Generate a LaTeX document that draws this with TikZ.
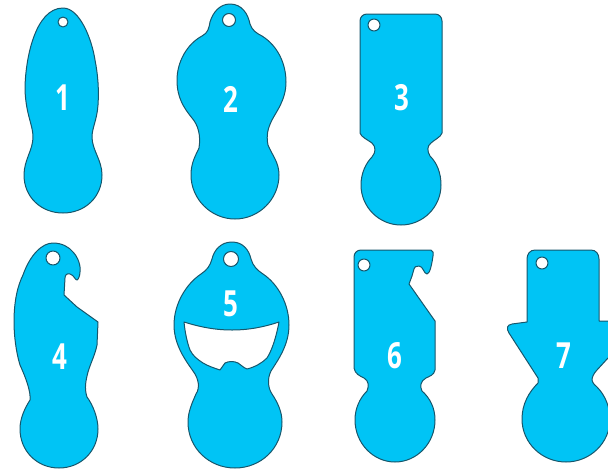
\documentclass[tikz,border=0pt]{standalone}
\usepackage{fontspec}
\setmainfont{Open Sans}
\definecolor{tokenfill}{HTML}{00C4F5}
\definecolor{tokenline}{HTML}{17566B}
\tikzset{
  token/.style={fill=tokenfill,draw=tokenline,line width=1pt,even odd rule,line join=round},
  digit/.style={text=white,inner sep=0pt,font=\fontsize{36}{36}\selectfont\bfseries,xscale=0.72,transform shape}
}
\begin{document}
\begin{tikzpicture}[x=1pt,y=-1pt]
\useasboundingbox (0,0) rectangle (608,469);
\clip (0,0) rectangle (608,469);
% 1
\draw[token] (63,8) .. controls (80,8) and (92,40) .. (95,60)
 .. controls (98,75) and (99,90) .. (98,105)
 .. controls (97,120) and (92,128) .. (92,137)
 .. controls (92,150) and (102,160) .. (102,175)
 .. controls (102,197) and (85,213) .. (63,213)
 .. controls (41,213) and (24,197) .. (24,175)
 .. controls (24,160) and (33,150) .. (33,137)
 .. controls (33,125) and (26,115) .. (25,90)
 .. controls (25,60) and (35,8) .. (63,8) -- cycle
 (63,22) circle (5pt);
% 2
\draw[token] (230,4) .. controls (242,4) and (248,14) .. (250,24)
 .. controls (252,30) and (256,33) .. (262,36)
 .. controls (278,46) and (286,64) .. (286,82)
 .. controls (286,100) and (276,112) .. (272,120)
 .. controls (268,128) and (266,135) .. (268,145)
 .. controls (272,155) and (279,162) .. (279,175)
 .. controls (279,199) and (259,219) .. (235,219)
 .. controls (211,219) and (191,199) .. (191,175)
 .. controls (191,162) and (196,155) .. (199,148)
 .. controls (201,135) and (198,125) .. (192,118)
 .. controls (184,108) and (177,98) .. (177,80)
 .. controls (177,62) and (187,44) .. (202,36)
 .. controls (208,33) and (209,28) .. (210,22)
 .. controls (213,12) and (220,4) .. (230,4) -- cycle
 (229,20) circle (6.5pt);
% 3
\draw[token] (367,14) -- (435,14) .. controls (439,14) and (442,17) .. (442,21)
 -- (442,133) .. controls (441,137) and (434,140) .. (431,143)
 .. controls (427,146) and (427,151) .. (430,156)
 .. controls (437,163) and (441,173) .. (441,185)
 .. controls (441,207) and (423,225) .. (401,225)
 .. controls (379,225) and (361,207) .. (361,185)
 .. controls (361,173) and (366,163) .. (372,157)
 .. controls (376,152) and (376,147) .. (372,143)
 .. controls (368,140) and (361,137) .. (360,133)
 -- (360,21) .. controls (360,17) and (363,14) .. (367,14) -- cycle
 (374,25) circle (6pt);
% 4
\draw[token] (53,243) .. controls (62,243) and (69,247) .. (73,252)
 .. controls (78,257) and (81,266) .. (80,272)
 .. controls (80,276) and (78,280) .. (77,280)
 .. controls (75,280) and (74,275) .. (70,274)
 .. controls (67,273) and (65,275) .. (65,278)
 -- (64,295) -- (77,307) -- (98,322) -- (97,345)
 .. controls (95,355) and (91,362) .. (88,372)
 .. controls (86,380) and (84,388) .. (87,397)
 .. controls (93,405) and (98,418) .. (98,429)
 .. controls (98,451) and (81,468) .. (59,468)
 .. controls (37,468) and (20,451) .. (20,429)
 .. controls (20,418) and (25,408) .. (30,400)
 .. controls (31,392) and (26,378) .. (20,365)
 .. controls (16,352) and (14,335) .. (14,322)
 .. controls (14,300) and (18,285) .. (23,275)
 .. controls (30,255) and (42,243) .. (53,243) -- cycle
 (53,258) circle (7pt);
% 5
\draw[token] (232,242) .. controls (243,242) and (249,250) .. (251,259)
 .. controls (253,266) and (257,270) .. (263,274)
 .. controls (278,284) and (289,304) .. (289,325)
 .. controls (289,345) and (278,360) .. (271,371)
 .. controls (267,379) and (268,388) .. (272,394)
 .. controls (278,403) and (282,412) .. (282,422)
 .. controls (282,448) and (261,468) .. (235,468)
 .. controls (209,468) and (188,448) .. (188,422)
 .. controls (188,412) and (192,403) .. (196,394)
 .. controls (200,388) and (199,379) .. (193,371)
 .. controls (186,361) and (174,345) .. (174,325)
 .. controls (174,304) and (186,284) .. (201,274)
 .. controls (207,270) and (210,266) .. (212,259)
 .. controls (214,250) and (221,242) .. (232,242) -- cycle
 (231,259) circle (7.5pt)
 (184,322) .. controls (200,327) and (215,330) .. (232,330)
 .. controls (249,330) and (264,327) .. (279,322)
 .. controls (276,338) and (272,350) .. (267,358)
 .. controls (262,363) and (255,367) .. (247,369)
 .. controls (244,368) and (241,365) .. (238,363)
 .. controls (234,361) and (229,361) .. (225,363)
 .. controls (223,365) and (222,368) .. (220,370)
 .. controls (214,368) and (208,366) .. (203,363)
 .. controls (197,359) and (193,356) .. (190,350)
 .. controls (187,342) and (185,332) .. (184,322) -- cycle;
% 6
\draw[token] (361,250) -- (431,250) .. controls (433,251) and (434,253) .. (433,256)
 .. controls (432,263) and (430,274) .. (427,274)
 .. controls (424,274) and (423,266) .. (419,266)
 .. controls (416,266) and (414,267) .. (414,269)
 -- (412,276) -- (409,284) -- (435,321) -- (435,370)
 .. controls (434,375) and (430,376) .. (426,378)
 .. controls (420,381) and (420,387) .. (422,391)
 .. controls (430,398) and (435,408) .. (435,420)
 .. controls (435,443) and (417,462) .. (395,462)
 .. controls (373,462) and (355,443) .. (355,420)
 .. controls (355,408) and (360,398) .. (367,391)
 .. controls (369,386) and (369,381) .. (364,378)
 .. controls (360,376) and (355,374) .. (354,368)
 -- (354,257) .. controls (354,253) and (357,250) .. (361,250) -- cycle
 (364,265) circle (6pt);
% 7
\draw[token] (535,250) -- (591,250) .. controls (596,250) and (599,254) .. (599,259)
 -- (599,321) -- (612,321) -- (612,358) -- (608,358)
 -- (597,370) .. controls (594,373) and (592,377) .. (592,380)
 .. controls (593,384) and (595,385) .. (597,387)
 .. controls (605,395) and (610,407) .. (610,419)
 .. controls (610,443) and (590,462) .. (566,462)
 .. controls (542,462) and (522,443) .. (522,419)
 .. controls (522,404) and (529,392) .. (538,383)
 -- (538,378) -- (509,333)
 .. controls (506,328) and (507,325) .. (512,324)
 -- (527,322) -- (527,259)
 .. controls (527,254) and (530,250) .. (535,250) -- cycle
 (542,263) circle (6pt);
\node[digit] (d1) at (63,98) {1};
\node[digit] (d2) at (231,99) {2};
\node[digit] (d3) at (402,98) {3};
\node[digit] (d4) at (60,357) {4};
\node[digit] (d5) at (231,304) {5};
\node[digit] (d6) at (395,356) {6};
\node[digit] (d7) at (564,356) {7};
\end{tikzpicture}
\end{document}
